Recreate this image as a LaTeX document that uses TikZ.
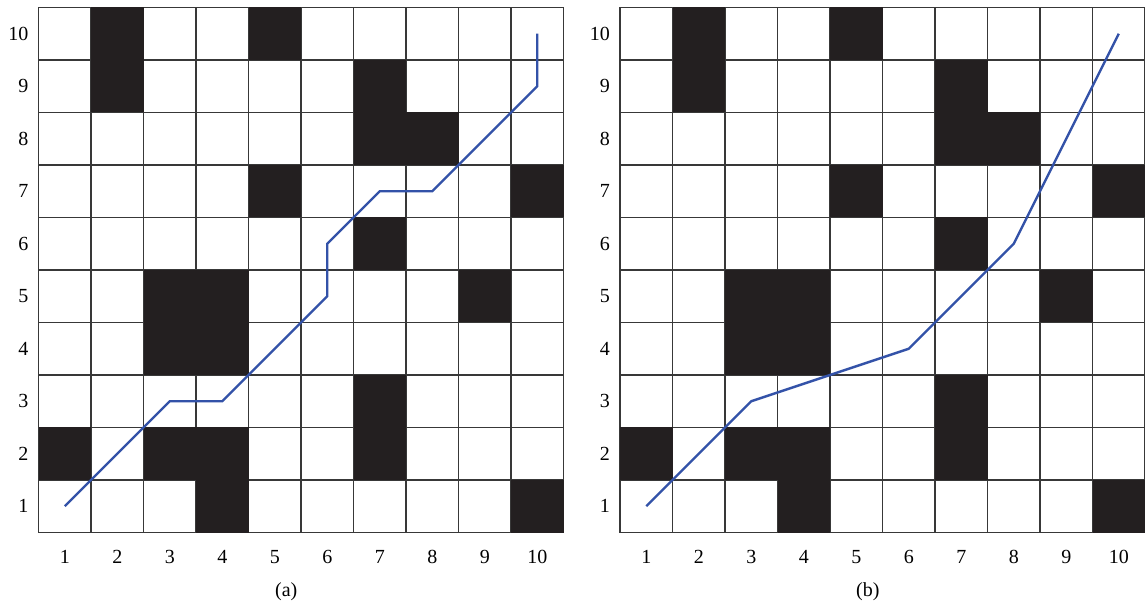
\documentclass[tikz,border=0pt]{standalone}
\usepackage{fontspec}
\setmainfont{Liberation Serif}
\definecolor{obst}{HTML}{231F20}
\definecolor{route}{HTML}{3352A8}
\tikzset{
  gridline/.style={draw=black!78, line width=1.2pt},
  obstacle/.style={fill=obst},
  pathline/.style={draw=route, line width=2.4pt, line join=miter},
  lab/.style={font=\fontsize{20}{23}\selectfont, inner sep=0pt},
}
\begin{document}
\begin{tikzpicture}
\useasboundingbox[fill=white] (0pt,0pt) rectangle (1145pt,605pt);
% panel (a)
\begin{scope}[shift={(38.5pt,72.5pt)}, x=52.5pt, y=52.5pt]
  \foreach \k in {0,...,10} {
    \draw[gridline] (\k,0) -- (\k,10);
    \draw[gridline] (0,\k) -- (10,\k);
  }
  \foreach \c/\r in {2/10,5/10,2/9,7/9,7/8,8/8,5/7,10/7,7/6,3/5,4/5,9/5,3/4,4/4,7/3,1/2,3/2,4/2,7/2,4/1,10/1}
    \fill[obstacle] (\c-1,\r-1) rectangle (\c,\r);
  \foreach \i in {1,...,10} {
    \node[lab, anchor=east] (ya\i) at (-0.19,\i-0.5) {\i};
    \node[lab] (xa\i) at (\i-0.5,-0.47) {\i};
  }
  \node[lab] (capa) at (4.72,-1.13) {(a)};
  \coordinate (a1) at (0.5,0.5);
  \coordinate (a2) at (2.5,2.5);
  \coordinate (a3) at (3.5,2.5);
  \coordinate (a4) at (5.5,4.5);
  \coordinate (a5) at (5.5,5.5);
  \coordinate (a6) at (6.5,6.5);
  \coordinate (a7) at (7.5,6.5);
  \coordinate (a8) at (9.5,8.5);
  \coordinate (a9) at (9.5,9.5);
  \draw[pathline] (a1) -- (a2) -- (a3) -- (a4) -- (a5) -- (a6) -- (a7) -- (a8) -- (a9);
\end{scope}
% panel (b)
\begin{scope}[shift={(620pt,72.5pt)}, x=52.5pt, y=52.5pt]
  \foreach \k in {0,...,10} {
    \draw[gridline] (\k,0) -- (\k,10);
    \draw[gridline] (0,\k) -- (10,\k);
  }
  \foreach \c/\r in {2/10,5/10,2/9,7/9,7/8,8/8,5/7,10/7,7/6,3/5,4/5,9/5,3/4,4/4,7/3,1/2,3/2,4/2,7/2,4/1,10/1}
    \fill[obstacle] (\c-1,\r-1) rectangle (\c,\r);
  \foreach \i in {1,...,10} {
    \node[lab, anchor=east] (yb\i) at (-0.19,\i-0.5) {\i};
    \node[lab] (xb\i) at (\i-0.5,-0.47) {\i};
  }
  \node[lab] (capb) at (4.72,-1.13) {(b)};
  \coordinate (b1) at (0.5,0.5);
  \coordinate (b2) at (2.5,2.5);
  \coordinate (b3) at (5.5,3.5);
  \coordinate (b4) at (7.5,5.5);
  \coordinate (b5) at (9.5,9.5);
  \draw[pathline] (b1) -- (b2) -- (b3) -- (b4) -- (b5);
\end{scope}
\end{tikzpicture}
\end{document}
